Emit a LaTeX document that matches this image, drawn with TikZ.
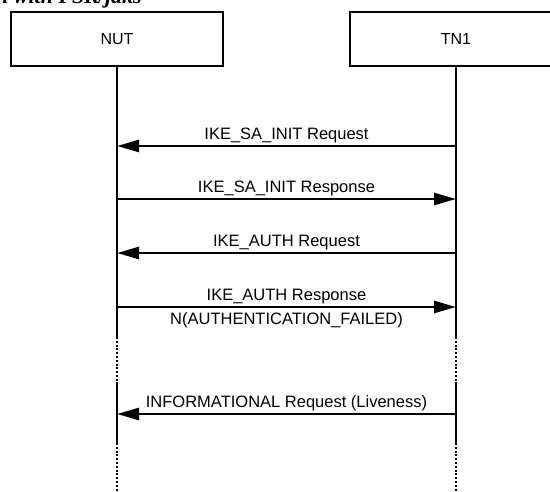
\documentclass[tikz,border=0pt]{standalone}
\usepackage{fontspec}
\setmainfont{Liberation Sans}
\newfontfamily\titlefont{Liberation Serif}
\usetikzlibrary{arrows.meta, positioning}
\tikzset{
	actor/.style={rectangle, draw=black, line width=2.5pt, minimum width=212pt, minimum height=54pt, font=\fontsize{16}{18}\selectfont},
	lifeline/.style={line width=2.5pt},
	gapline/.style={line width=2.5pt, dash pattern=on 2pt off 1.8pt},
	msg/.style={-{Triangle[length=22pt, width=12pt]}, line width=2.5pt},
	msglabel/.style={anchor=base, inner sep=0pt, font=\fontsize{16.5}{18}\selectfont},
}

\begin{document}
\begin{tikzpicture}[x=1pt, y=-1pt]
	\clip (0,0) rectangle (550,491);
	\node[anchor=base west, inner sep=0pt, font={\titlefont\bfseries\itshape\fontsize{22}{24}\selectfont}] (title) at (-4,3) {n with PSK/jaks};
	\node[actor] (nut) at (117,39) {NUT};
	\node[actor] (tn1) at (456,39) {TN1};
	% points on the lifelines
	\foreach \n/\y in {a/146, b/199, c/253, d/307, e/337, f/382, g/414, h/443, i/491}{
		\coordinate (nut\n) at (nut.south |- 0,\y);
		\coordinate (tn1\n) at (tn1.south |- 0,\y);
	}
	\foreach \a in {nut,tn1}{
		\draw[lifeline] (\a.south) -- (\a e);
		\draw[gapline] (\a e) -- (\a f);
		\draw[lifeline] (\a f) -- (\a h);
		\draw[gapline] (\a h) -- (\a i);
	}
	\draw[msg] (tn1a) -- node[msglabel, midway, yshift=7pt] {IKE\_SA\_INIT Request} (nuta);
	\draw[msg] (nutb) -- node[msglabel, midway, yshift=7pt] {IKE\_SA\_INIT Response} (tn1b);
	\draw[msg] (tn1c) -- node[msglabel, midway, yshift=7pt] {IKE\_AUTH Request} (nutc);
	\draw[msg] (nutd) -- node[msglabel, midway, yshift=7pt] {IKE\_AUTH Response}
		node[msglabel, midway, yshift=-17pt] {N(AUTHENTICATION\_FAILED)} (tn1d);
	\draw[msg] (tn1g) -- node[msglabel, midway, yshift=7pt] {INFORMATIONAL Request (Liveness)} (nutg);
\end{tikzpicture}
\end{document}
